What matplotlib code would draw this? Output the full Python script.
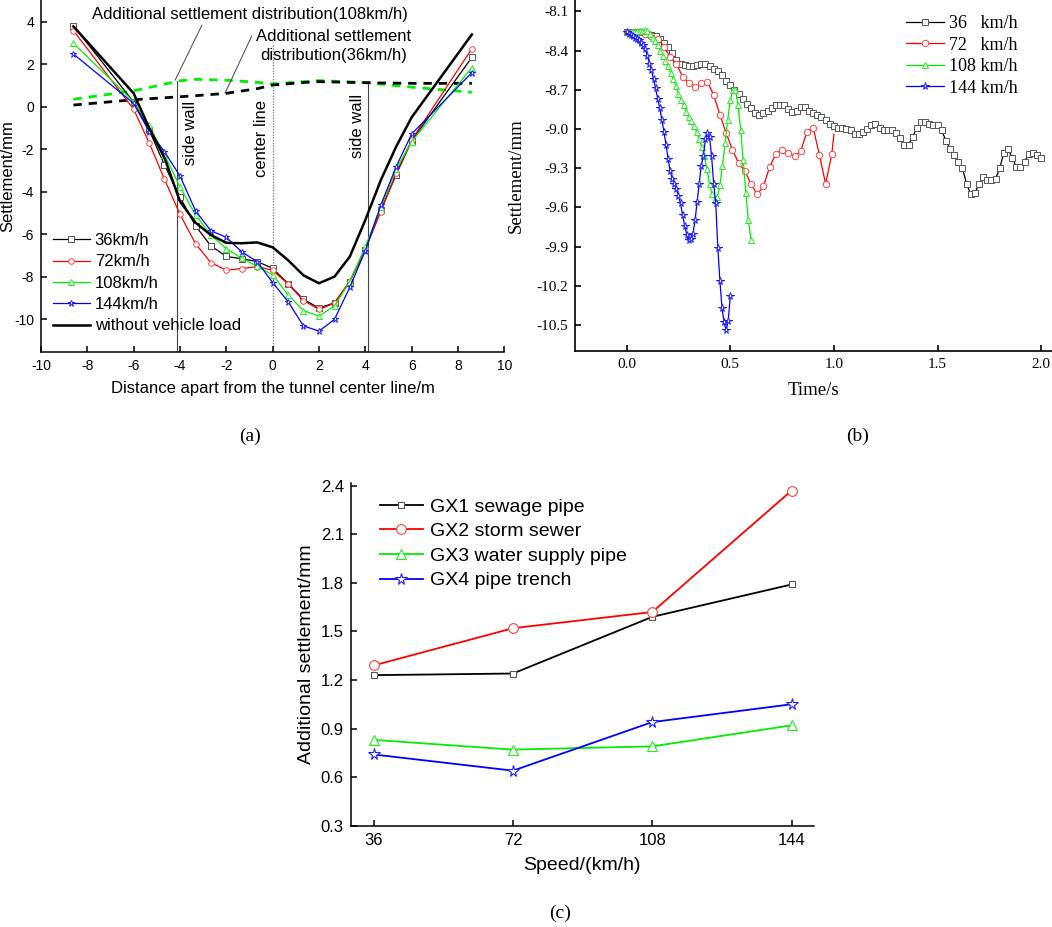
import numpy as np
import matplotlib
matplotlib.use("Agg")
import matplotlib.pyplot as plt

plt.rcParams['axes.unicode_minus'] = False
SANS = 'Liberation Sans'
SERIF = 'Liberation Serif'

# ---------------- (a) settlement across the section ----------------
DIST = [-8.6, -6.0, -5.33, -4.67, -4.0, -3.33, -2.67, -2.0, -1.33, -0.67, 0.0,
        0.67, 1.33, 2.0, 2.67, 3.33, 4.0, 4.67, 5.33, 6.0, 8.6]
A_36 = [3.81, 0.22, -1.10, -2.74, -4.25, -5.60, -6.54, -7.04, -7.15, -7.28, -7.60,
        -8.32, -9.06, -9.47, -9.22, -8.22, -6.72, -4.85, -3.20, -1.60, 2.32]
A_72 = [3.58, -0.12, -1.70, -3.41, -5.06, -6.44, -7.33, -7.69, -7.61, -7.52, -7.70,
        -8.34, -9.12, -9.53, -9.24, -8.20, -6.70, -4.93, -3.13, -1.56, 2.73]
A_108 = [2.98, 0.24, -0.88, -2.27, -3.76, -5.09, -6.03, -6.67, -7.13, -7.50, -7.91,
         -8.85, -9.59, -9.84, -9.37, -8.22, -6.58, -4.73, -2.94, -1.64, 1.84]
A_144 = [2.48, 0.16, -1.17, -2.11, -3.26, -4.89, -5.83, -6.14, -6.83, -7.28, -8.27,
         -9.17, -10.31, -10.55, -10.00, -8.49, -6.77, -4.62, -2.82, -1.28, 1.60]
A_NONE = [3.78, 0.63, -1.00, -2.40, -4.45, -5.45, -6.03, -6.40, -6.42, -6.38, -6.61,
          -7.22, -7.93, -8.30, -7.99, -7.05, -5.33, -3.45, -1.88, -0.50, 3.40]
A_LABELS = ['36km/h', '72km/h', '108km/h', '144km/h', 'without vehicle load']

DASH_X = [-8.6, -6.0, -4.0, -3.33, -2.0, -0.67, 0.0, 1.33, 2.0, 4.0, 6.0, 8.6]
ADD_108 = [0.35, 0.75, 1.22, 1.29, 1.25, 1.15, 1.07, 1.18, 1.23, 1.14, 0.92, 0.68]
ADD_36 = [0.08, 0.33, 0.47, 0.52, 0.63, 0.85, 1.02, 1.14, 1.18, 1.13, 1.10, 1.10]

WALL_X = [-4.12, 4.12]

# ---------------- (b) settlement history ----------------
T36_STEP, T72_STEP, T108_STEP, T144_STEP = 0.02, 0.03, 0.0125, 0.01
B_36 = [-8.26, -8.26, -8.26, -8.26, -8.26, -8.27, -8.28, -8.29, -8.31, -8.34,
        -8.37, -8.42, -8.47, -8.50, -8.51, -8.52, -8.52, -8.51, -8.50, -8.50,
        -8.52, -8.54, -8.56, -8.59, -8.63, -8.66, -8.70, -8.73, -8.77, -8.81,
        -8.84, -8.88, -8.89, -8.88, -8.86, -8.84, -8.82, -8.82, -8.82, -8.85,
        -8.87, -8.86, -8.83, -8.83, -8.86, -8.88, -8.89, -8.91, -8.93, -8.96,
        -8.98, -8.99, -8.99, -9.00, -9.01, -9.04, -9.04, -9.02, -9.00, -8.97,
        -8.96, -8.99, -9.01, -9.01, -9.01, -9.03, -9.07, -9.12, -9.12, -9.06,
        -8.99, -8.95, -8.95, -8.96, -8.97, -8.97, -9.01, -9.09, -9.15, -9.20,
        -9.25, -9.30, -9.42, -9.50, -9.49, -9.42, -9.37, -9.39, -9.39, -9.38,
        -9.30, -9.18, -9.15, -9.22, -9.29, -9.29, -9.25, -9.19, -9.18, -9.20,
        -9.22]
B_72 = [-8.26, -8.26, -8.26, -8.27, -8.29, -8.31, -8.37, -8.45, -8.50, -8.60,
        -8.65, -8.68, -8.65, -8.64, -8.74, -8.89, -9.03, -9.16, -9.26, -9.32,
        -9.42, -9.50, -9.44, -9.29, -9.19, -9.16, -9.18, -9.21, -9.17, -9.02,
        -8.99, -9.20, -9.42, -9.19]
B_72_END = (1.0, -9.04)   # last sample, drawn without a symbol
B_108 = [-8.26, -8.26, -8.26, -8.26, -8.25, -8.25, -8.25, -8.24, -8.25, -8.27,
         -8.30, -8.33, -8.36, -8.40, -8.44, -8.48, -8.52, -8.57, -8.62, -8.67,
         -8.73, -8.78, -8.82, -8.87, -8.91, -8.94, -8.98, -9.02, -9.08, -9.14,
         -9.21, -9.31, -9.42, -9.50, -9.54, -9.52, -9.43, -9.28, -9.11, -8.93,
         -8.78, -8.70, -8.70, -8.82, -9.01, -9.24, -9.49, -9.70, -9.85]
B_144 = [-8.26, -8.27, -8.28, -8.29, -8.30, -8.31, -8.32, -8.34, -8.36, -8.39,
         -8.44, -8.50, -8.55, -8.62, -8.69, -8.77, -8.84, -8.93, -9.02, -9.12,
         -9.23, -9.32, -9.38, -9.42, -9.46, -9.51, -9.57, -9.66, -9.74, -9.81,
         -9.85, -9.84, -9.80, -9.70, -9.56, -9.42, -9.28, -9.21, -9.08, -9.03,
         -9.06, -9.21, -9.42, -9.57, -9.91, -10.16, -10.37, -10.48, -10.54, -10.47,
         -10.28]
B_LABELS = ['36   km/h', '72   km/h', '108 km/h', '144 km/h']

# ---------------- (c) additional settlement vs speed ----------------
SPEED = [36, 72, 108, 144]
GX1 = [1.23, 1.24, 1.59, 1.79]
GX2 = [1.29, 1.52, 1.62, 2.37]
GX3 = [0.83, 0.77, 0.79, 0.92]
GX4 = [0.74, 0.64, 0.94, 1.05]
C_LABELS = ['GX1 sewage pipe', 'GX2 storm sewer', 'GX3 water supply pipe', 'GX4 pipe trench']

COLORS = ['black', '#ff0000', '#00ee00', '#0000ff']
EDGES = ['#555555', '#ff4040', '#20ee20', '#2020ff']
MARKERS = ['s', 'o', '^', '*']

W, H = 1052.0, 927.0
fig = plt.figure(figsize=(W / 100, H / 100), dpi=100)


def px_axes(left, top, right, bottom):
    return fig.add_axes([left / W, 1 - bottom / H, (right - left) / W, (bottom - top) / H])


def style(ax, lw, family, size):
    for s in ['top', 'right']:
        ax.spines[s].set_visible(False)
    for s in ['left', 'bottom']:
        ax.spines[s].set_linewidth(lw)
    ax.tick_params(direction='in', length=4, width=lw, labelsize=size, pad=5)
    for t in ax.get_xticklabels() + ax.get_yticklabels():
        t.set_family(family)


# ---- (a)
axa = px_axes(41, 0, 504.3, 351.7)
axa.set_xlim(-10, 10)
axa.set_ylim(-11.52, 5.02)
axa.set_xticks(np.arange(-10, 11, 2))
axa.set_yticks(np.arange(-10, 5, 2))
style(axa, 1.1, SANS, 10)

for vals, c, e, m, lab in zip([A_36, A_72, A_108, A_144], COLORS, EDGES, MARKERS, A_LABELS):
    axa.plot(DIST, vals, color=c, lw=0.9, marker=m, ms=5 if m == '*' else 4,
             mfc='white', mec=e, mew=0.7, label=lab, zorder=3)
axa.plot(DIST, A_NONE, color='black', lw=1.8, label=A_LABELS[4], zorder=3)
axa.plot(DASH_X, ADD_108, color='#00ee00', lw=2, ls=(0, (3, 2.5)), zorder=2)
axa.plot(DASH_X, ADD_36, color='black', lw=2, ls=(0, (3, 2.5)), zorder=2)

for wx in WALL_X:
    axa.plot([wx, wx], [-11.52, 1.21], color='#444444', lw=0.8, zorder=1)
axa.plot([0, 0], [-11.52, 2.9], color='#888888', lw=1.0, ls=(0, (1, 1)), zorder=1)

axa.text(-3.55, -1.24, 'side wall', rotation=90, ha='center', va='center', family=SANS, fontsize=12)
axa.text(-0.46, -1.49, 'center line', rotation=90, ha='center', va='center', family=SANS, fontsize=12)
axa.text(3.68, -0.92, 'side wall', rotation=90, ha='center', va='center', family=SANS, fontsize=12)

axa.annotate('Additional settlement distribution(108km/h)', xy=(-4.21, 1.25), xytext=(-7.81, 4.32),
             ha='left', va='center', family=SANS, fontsize=12,
             arrowprops=dict(arrowstyle='-', color='#444444', lw=0.7, shrinkA=0, shrinkB=0,
                             relpos=(0.353, 0.0)))
axa.annotate('Additional settlement\ndistribution(36km/h)', xy=(-2.06, 0.63), xytext=(2.65, 2.86),
             ha='center', va='center', multialignment='center', family=SANS, fontsize=12,
             linespacing=1.3,
             arrowprops=dict(arrowstyle='-', color='#444444', lw=0.7, shrinkA=0, shrinkB=0,
                             relpos=(-0.03, 0.8)))

axa.set_xlabel('Distance apart from the tunnel center line/m', family=SANS, fontsize=12, labelpad=6)
axa.set_ylabel('Settlement/mm', family=SANS, fontsize=12)
axa.yaxis.set_label_coords(-0.056, 0.5)
axa.legend(loc='upper left', bbox_to_anchor=(53 / W, 1 - 233 / H), bbox_transform=fig.transFigure,
           frameon=False, borderpad=0, borderaxespad=0, handlelength=2.2, handletextpad=0.3,
           labelspacing=0.38, prop={'family': SANS, 'size': 12})

# ---- (b)
axb = px_axes(575, 0, 1052, 351)
axb.set_xlim(-0.249, 2.052)
axb.set_ylim(-10.699, -8.013)
axb.set_xticks([0.0, 0.5, 1.0, 1.5, 2.0])
axb.set_xticklabels(['0.0', '0.5', '1.0', '1.5', '2.0'])
yt = [-8.1, -8.4, -8.7, -9.0, -9.3, -9.6, -9.9, -10.2, -10.5]
axb.set_yticks(yt)
axb.set_yticklabels(['%.1f' % v for v in yt])
style(axb, 1.2, SERIF, 11)

series_b = [(T36_STEP, B_36), (T72_STEP, B_72), (T108_STEP, B_108), (T144_STEP, B_144)]
ms_b = [4.2, 4.6, 4.6, 5.5]
for (step, vals), c, e, m, s, lab in zip(series_b, COLORS, EDGES, MARKERS, ms_b, B_LABELS):
    t = np.round(np.arange(len(vals)) * step, 4)
    if lab.startswith('72'):
        t = np.append(t, B_72_END[0])
        vals = vals + [B_72_END[1]]
        every = slice(0, len(vals) - 1)
    else:
        every = None
    axb.plot(t, vals, color=c, lw=0.9, marker=m, ms=s, mfc='white', mec=e, mew=0.7,
             markevery=every, label=lab)

axb.set_xlabel('Time/s', family=SERIF, fontsize=13.5, labelpad=8)
axb.set_ylabel('Settlement/mm', family=SERIF, fontsize=13.5, labelpad=8)
axb.legend(loc='upper left', bbox_to_anchor=(906 / W, 1 - 15 / H), bbox_transform=fig.transFigure,
           frameon=False, borderpad=0, borderaxespad=0, handlelength=2.1, handletextpad=0.3,
           labelspacing=0.25, prop={'family': SERIF, 'size': 13})

# ---- (c)
axc = px_axes(350.7, 483.3, 814, 825.7)
axc.set_xlim(30.06, 149.8)
axc.set_ylim(0.3, 2.415)
axc.set_xticks(SPEED)
yc = [0.3, 0.6, 0.9, 1.2, 1.5, 1.8, 2.1, 2.4]
axc.set_yticks(yc)
axc.set_yticklabels(['%.1f' % v for v in yc])
style(axc, 1.1, SANS, 12)

ms_c = [5, 7, 7.5, 8.5]
for vals, c, e, m, s, lab in zip([GX1, GX2, GX3, GX4], COLORS, EDGES, MARKERS, ms_c, C_LABELS):
    axc.plot(SPEED, vals, color=c, lw=1.3, marker=m, ms=s, mfc='white', mec=e, mew=0.8, label=lab)

axc.set_xlabel('Speed/(km/h)', family=SANS, fontsize=14, labelpad=7)
axc.set_ylabel('Additional settlement/mm', family=SANS, fontsize=14, labelpad=4)
axc.legend(loc='upper left', bbox_to_anchor=(380 / W, 1 - 498 / H), bbox_transform=fig.transFigure,
           frameon=False, borderpad=0, borderaxespad=0, handlelength=2.2, handletextpad=0.35,
           labelspacing=0.36, prop={'family': SANS, 'size': 14})

# panel captions
fig.text(250 / W, 1 - 436 / H, '(a)', ha='center', va='center', family=SERIF, fontsize=14)
fig.text(858 / W, 1 - 436 / H, '(b)', ha='center', va='center', family=SERIF, fontsize=14)
fig.text(560 / W, 1 - 913 / H, '(c)', ha='center', va='center', family=SERIF, fontsize=14)

fig.savefig('out.png', dpi=100)
